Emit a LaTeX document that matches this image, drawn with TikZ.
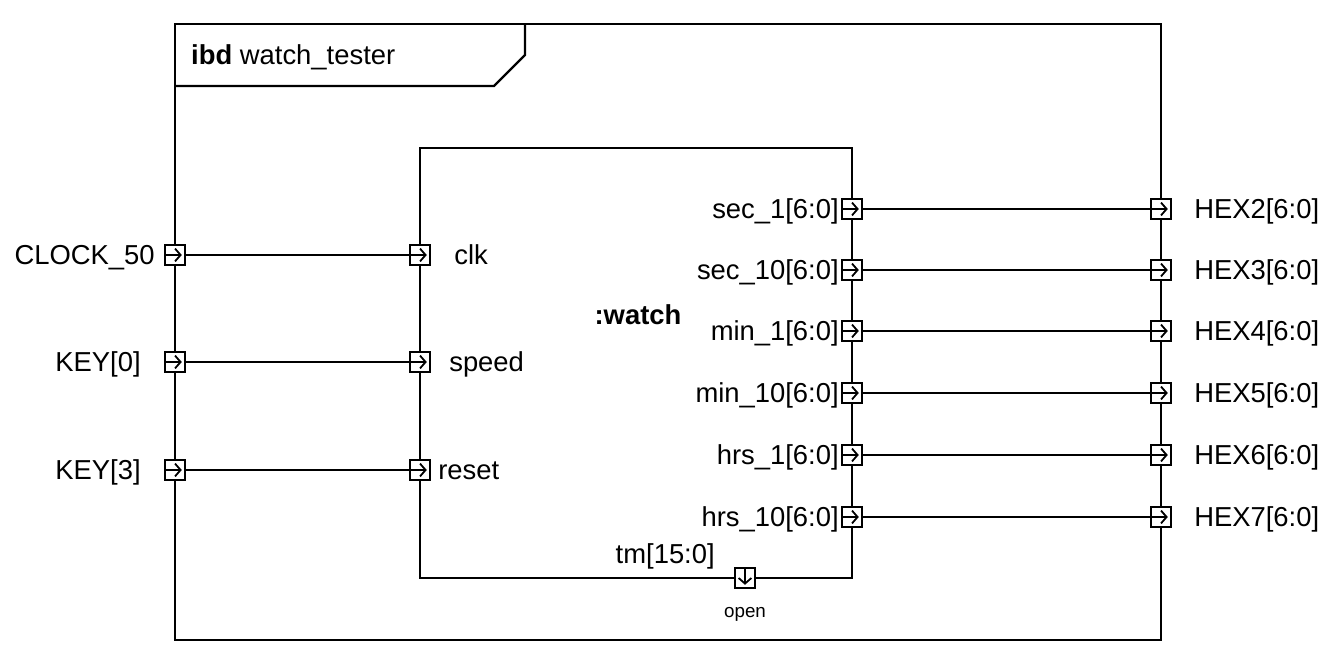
\documentclass[tikz,border=0pt]{standalone}
\usepackage{fontspec}
\setmainfont{Liberation Sans}
\usetikzlibrary{arrows.meta, positioning}

\begin{document}
\begin{tikzpicture}[
  x=0.5pt, y=-0.5pt, line width=1.2pt,
  port/.style={draw, fill=white, minimum size=10pt, inner sep=0pt, line width=1.1pt},
  portin/.style={port, path picture={\draw[line width=0.9pt, -{Straight Barb[length=2.8pt, width=6.4pt]}]
      ([xshift=0.3pt]path picture bounding box.west) -- ([xshift=-1.6pt]path picture bounding box.east);}},
  portdown/.style={port, path picture={\draw[line width=0.9pt, -{Straight Barb[length=2.8pt, width=6.4pt]}]
      ([yshift=-0.3pt]path picture bounding box.north) -- ([yshift=1.6pt]path picture bounding box.south);}},
  tag/.style={font=\fontsize{13.7}{16}\selectfont, inner sep=0pt, text height=11pt, text depth=1.2pt},
  note/.style={font=\fontsize{9.4}{11}\selectfont, inner sep=0pt},
  wire/.style={line width=1.1pt}
]
  \useasboundingbox (0,0) rectangle (1339,667);

  % frame and block
  \draw (175,24) rectangle (1161,640);
  \draw (175,86) -- (494,86) -- (525,55) -- (525,24);
  \node[tag, anchor=west] (title) at (190,55) {\textbf{ibd} watch\_tester};
  \draw (420,148) rectangle (852,578);
  \node[tag, font=\fontsize{13.7}{16}\selectfont\bfseries] (watch) at (638,315) {:watch};

  % inputs
  \foreach \y/\ext/\int/\n/\dl/\dr in {255/CLOCK\_50/clk/k/4pt/11pt,
                                       362/KEY[0]/speed/s/11pt/8.5pt,
                                       470/KEY[3]/reset/r/11pt/3pt} {
    \node[portin] (x\n) at (175,\y) {};
    \node[tag, left=\dl of x\n] {\ext};
    \node[portin] (i\n) at (420,\y) {};
    \node[tag, right=\dr of i\n] {\int};
    \draw[wire] (x\n) -- (i\n);
  }

  % outputs
  \foreach \y/\sig/\n in {209/sec\_1/2, 270/sec\_10/3, 331/min\_1/4,
                          393/min\_10/5, 455/hrs\_1/6, 517/hrs\_10/7} {
    \node[portin] (w\n) at (852,\y) {};
    \node[tag, left=0.5pt of w\n] {\sig[6:0]};
    \node[portin] (h\n) at (1161,\y) {};
    \node[tag, right=10.5pt of h\n] {HEX\n[6:0]};
    \draw[wire] (w\n) -- (h\n);
  }

  \node[portdown] (tm) at (745,578) {};
  \node[tag, above left=0pt and 9pt of tm] {tm[15:0]};
  \node[note, below=8.5pt of tm] {open};
\end{tikzpicture}
\end{document}
